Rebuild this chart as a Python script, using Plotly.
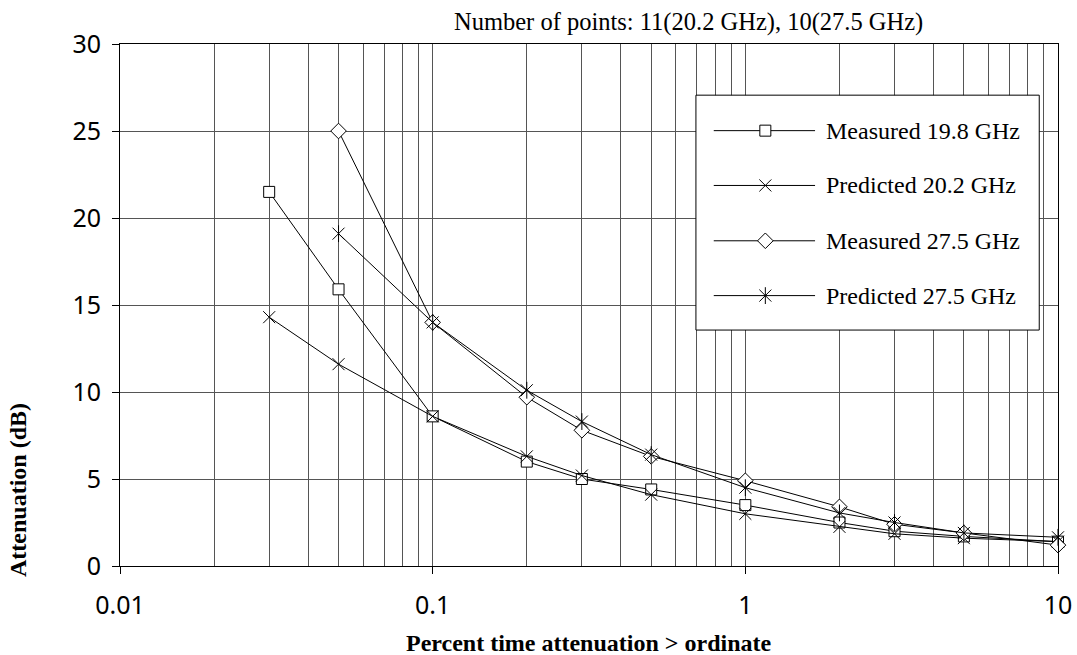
import plotly.graph_objects as go

# Percent of time (abscissa) for each series
pct_20 = [0.03, 0.05, 0.1, 0.2, 0.3, 0.5, 1, 2, 3, 5, 10]
pct_27 = [0.05, 0.1, 0.2, 0.3, 0.5, 1, 2, 3, 5, 10]

# Attenuation (dB) exceeded for the given percentage of time
meas_19_8 = [21.5, 15.9, 8.6, 6.0, 5.0, 4.4, 3.5, 2.5, 2.0, 1.7, 1.4]
pred_20_2 = [14.3, 11.6, 8.6, 6.3, 5.2, 4.1, 3.0, 2.25, 1.85, 1.6, 1.4]
meas_27_5 = [25.0, 14.0, 9.7, 7.8, 6.3, 4.9, 3.4, 2.4, 1.9, 1.2]
pred_27_5 = [19.1, 14.0, 10.1, 8.3, 6.4, 4.5, 3.05, 2.5, 1.9, 1.65]

series_names = ["Measured 19.8 GHz", "Predicted 20.2 GHz",
                "Measured 27.5 GHz", "Predicted 27.5 GHz"]
x_tick_vals = [0.01, 0.1, 1, 10]
x_tick_text = ["0.01", "0.1", "1", "10"]
note_text = "Number of points: 11(20.2 GHz), 10(27.5 GHz)"

SERIF = "Liberation Serif, Times New Roman, serif"
SANS = "Noto Sans, DejaVu Sans, sans-serif"
INK = "black"

sq = dict(symbol="square", size=11, color="white", line=dict(color=INK, width=1))
xm = dict(symbol="x-thin", size=12, color=INK, line=dict(color=INK, width=1))
dm = dict(symbol="diamond", size=12, color="white", line=dict(color=INK, width=1))
vm = dict(symbol="line-ns", size=12, color=INK, line=dict(color=INK, width=1))

line = dict(color=INK, width=1)

fig = go.Figure()
fig.add_trace(go.Scatter(x=pct_20, y=meas_19_8, mode="lines+markers", cliponaxis=False,
                         line=line, marker=sq, name=series_names[0], showlegend=False))
fig.add_trace(go.Scatter(x=pct_20, y=pred_20_2, mode="lines+markers", cliponaxis=False,
                         line=line, marker=xm, name=series_names[1], showlegend=False))
fig.add_trace(go.Scatter(x=pct_27, y=meas_27_5, mode="lines+markers", cliponaxis=False,
                         line=line, marker=dm, name=series_names[2], showlegend=False))
fig.add_trace(go.Scatter(x=pct_27, y=pred_27_5, mode="lines+markers", cliponaxis=False,
                         line=line, marker=xm, name=series_names[3], showlegend=False))
# vertical stroke that turns the X into an asterisk
fig.add_trace(go.Scatter(x=pct_27, y=pred_27_5, mode="markers", cliponaxis=False,
                         marker=vm, hoverinfo="skip", showlegend=False))

# Boxed key drawn on an overlay axis spanning the plot area (0..1 both ways)
box_x0, box_x1, box_y0, box_y1 = 0.614, 0.980, 0.452, 0.902
row_y = [0.834, 0.729, 0.623, 0.518]
smp_x0, smp_mid, smp_x1, txt_x = 0.633, 0.688, 0.741, 0.751
key_markers = [[sq], [xm], [dm], [xm, vm]]

# white panel with a thin frame; it hides the grid behind the key
fig.add_trace(go.Scatter(x=[box_x0, box_x1, box_x1, box_x0, box_x0],
                         y=[box_y0, box_y0, box_y1, box_y1, box_y0],
                         mode="lines", fill="toself", fillcolor="white", line=line,
                         xaxis="x2", yaxis="y2", hoverinfo="skip", showlegend=False))
for name, yy, mks in zip(series_names, row_y, key_markers):
    fig.add_trace(go.Scatter(x=[smp_x0, smp_x1], y=[yy, yy], mode="lines", line=line,
                             xaxis="x2", yaxis="y2", hoverinfo="skip", showlegend=False))
    for mk in mks:
        fig.add_trace(go.Scatter(x=[smp_mid], y=[yy], mode="markers", marker=mk,
                                 xaxis="x2", yaxis="y2", hoverinfo="skip", showlegend=False))
    fig.add_annotation(x=txt_x, y=yy, xref="paper", yref="paper", text=name,
                       showarrow=False, xanchor="left", yanchor="middle",
                       font=dict(family=SERIF, size=24, color=INK))

grid = "#555555"
fig.update_layout(
    width=1077, height=655,
    margin=dict(l=120, r=19, t=44, b=89, autoexpand=False),
    paper_bgcolor="white", plot_bgcolor="white",
    showlegend=False,
    xaxis=dict(type="log", range=[-2, 1], automargin=False,
               tickvals=x_tick_vals, ticktext=x_tick_text,
               ticks="outside", ticklen=7, tickcolor=INK,
               ticklabelstandoff=10,
               tickfont=dict(family=SANS, size=25, color=INK),
               showline=True, linecolor=INK, linewidth=1, mirror=True,
               showgrid=True, gridcolor=grid, gridwidth=1,
               minor=dict(dtick="D1", showgrid=True, gridcolor=grid, gridwidth=1, ticks=""),
               zeroline=False),
    yaxis=dict(range=[0, 30], dtick=5, automargin=False,
               ticks="outside", ticklen=7, tickcolor=INK,
               ticklabelstandoff=6,
               tickfont=dict(family=SANS, size=25, color=INK),
               showline=True, linecolor=INK, linewidth=1, mirror=True,
               showgrid=True, gridcolor=grid, gridwidth=1, zeroline=False),
    xaxis2=dict(overlaying="x", range=[0, 1], visible=False, fixedrange=True),
    yaxis2=dict(overlaying="y", range=[0, 1], visible=False, fixedrange=True),
)

fig.add_annotation(x=0.5, y=-0.148, xref="paper", yref="paper",
                   text="<b>Percent time attenuation > ordinate</b>",
                   showarrow=False, xanchor="center", yanchor="middle",
                   font=dict(family=SERIF, size=24, color=INK))
fig.add_annotation(x=-0.108, y=0.145, xref="paper", yref="paper",
                   text="<b>Attenuation (dB)</b>", textangle=-90,
                   showarrow=False, xanchor="center", yanchor="middle",
                   font=dict(family=SERIF, size=24, color=INK))
fig.add_annotation(x=0.606, y=1.042, xref="paper", yref="paper",
                   text=note_text, showarrow=False,
                   xanchor="center", yanchor="middle",
                   font=dict(family=SERIF, size=24.5, color=INK))

fig.write_html("out.html")
